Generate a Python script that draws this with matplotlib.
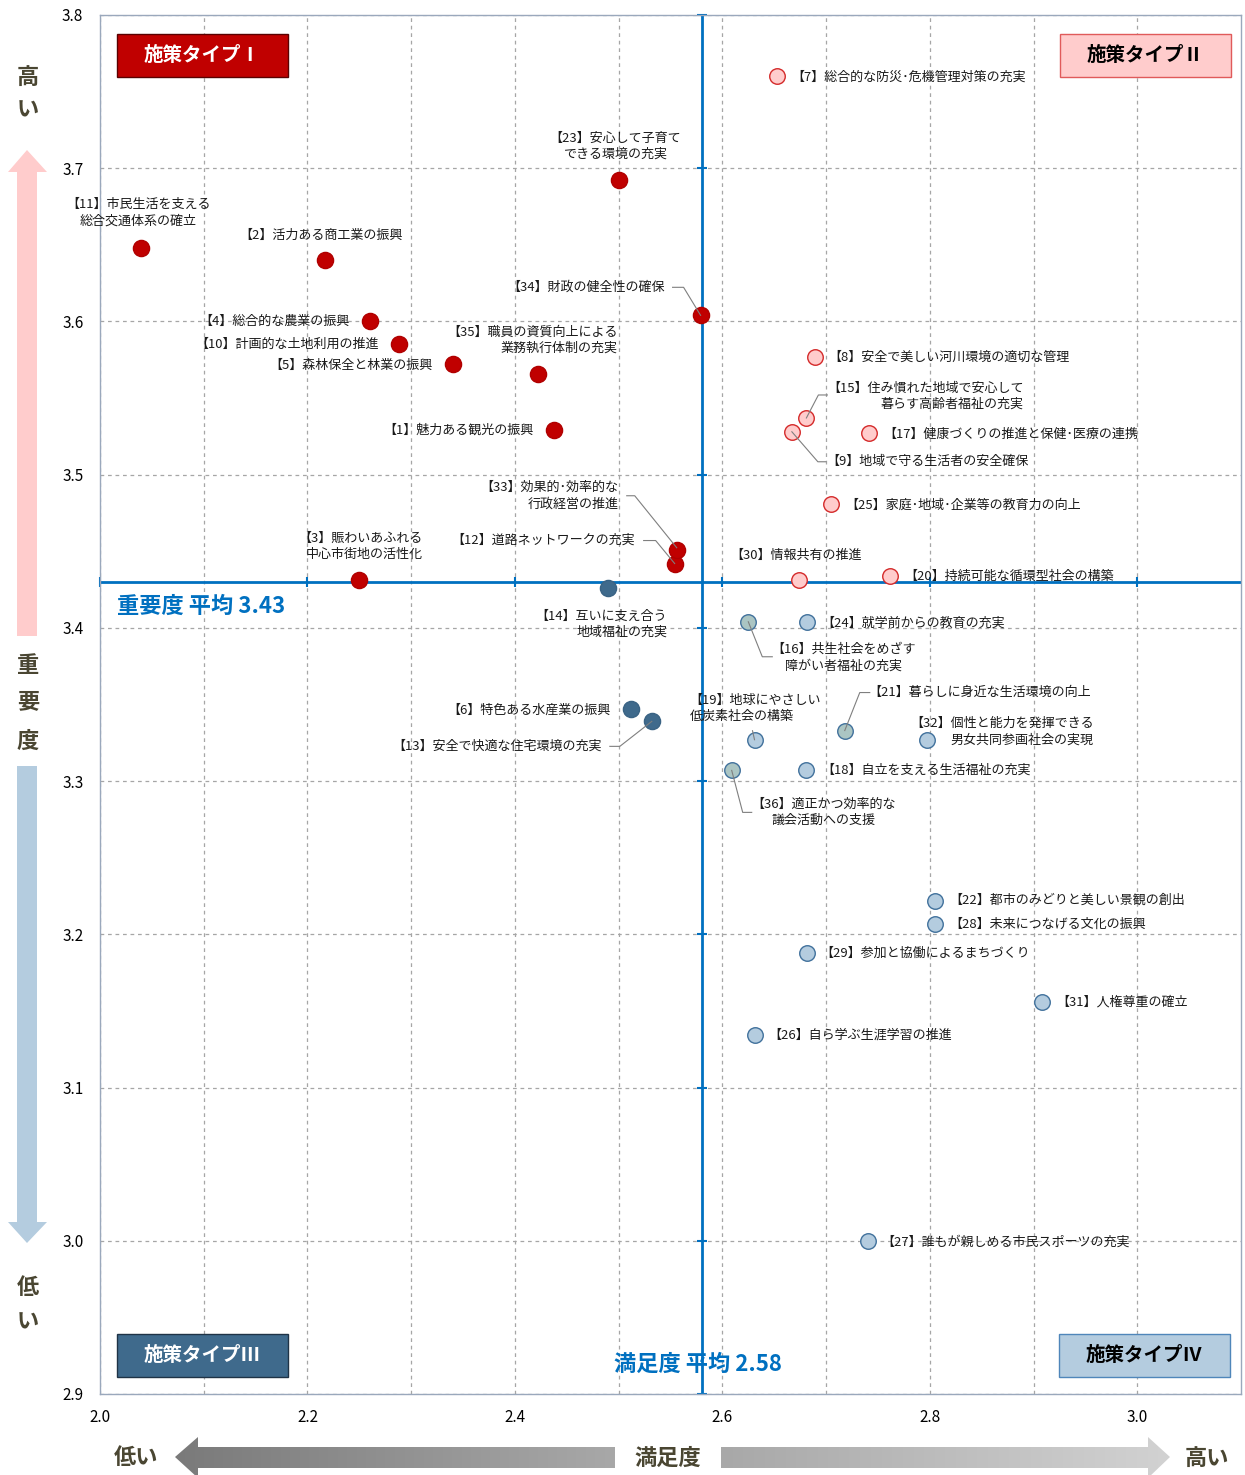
# Importance / satisfaction matrix of the 36 policy items

# %%
import numpy as np
import matplotlib
matplotlib.use('Agg')
import matplotlib.pyplot as plt
from matplotlib.patches import Rectangle, Polygon
from matplotlib.transforms import IdentityTransform

plt.rcParams['font.family'] = ['Noto Sans CJK JP', 'DejaVu Sans']

# %% data
ids = list(range(1, 37))
names = [
    '魅力ある観光の振興', '活力ある商工業の振興', '賑わいあふれる\n中心市街地の活性化',
    '総合的な農業の振興', '森林保全と林業の振興', '特色ある水産業の振興',
    '総合的な防災･危機管理対策の充実', '安全で美しい河川環境の適切な管理',
    '地域で守る生活者の安全確保', '計画的な土地利用の推進',
    '市民生活を支える\n総合交通体系の確立', '道路ネットワークの充実',
    '安全で快適な住宅環境の充実', '互いに支え合う\n地域福祉の充実',
    '住み慣れた地域で安心して\n暮らす高齢者福祉の充実', '共生社会をめざす\n障がい者福祉の充実',
    '健康づくりの推進と保健･医療の連携', '自立を支える生活福祉の充実',
    '地球にやさしい\n低炭素社会の構築', '持続可能な循環型社会の構築',
    '暮らしに身近な生活環境の向上', '都市のみどりと美しい景観の創出',
    '安心して子育て\nできる環境の充実', '就学前からの教育の充実',
    '家庭･地域･企業等の教育力の向上', '自ら学ぶ生涯学習の推進',
    '誰もが親しめる市民スポーツの充実', '未来につなげる文化の振興',
    '参加と協働によるまちづくり', '情報共有の推進', '人権尊重の確立',
    '個性と能力を発揮できる\n男女共同参画社会の実現', '効果的･効率的な\n行政経営の推進',
    '財政の健全性の確保', '職員の資質向上による\n業務執行体制の充実',
    '適正かつ効率的な\n議会活動への支援',
]
satisfaction = [2.438, 2.217, 2.250, 2.260, 2.340, 2.512, 2.653, 2.689, 2.667, 2.288,
                2.040, 2.554, 2.532, 2.490, 2.681, 2.625, 2.741, 2.681, 2.631, 2.762,
                2.718, 2.805, 2.500, 2.682, 2.705, 2.631, 2.740, 2.805, 2.682, 2.674,
                2.908, 2.797, 2.556, 2.579, 2.422, 2.609]
importance = [3.529, 3.640, 3.431, 3.600, 3.572, 3.347, 3.760, 3.577, 3.528, 3.585,
              3.648, 3.442, 3.339, 3.426, 3.537, 3.404, 3.527, 3.307, 3.327, 3.434,
              3.333, 3.222, 3.692, 3.404, 3.481, 3.134, 3.000, 3.207, 3.188, 3.431,
              3.156, 3.327, 3.451, 3.604, 3.566, 3.307]
group = ['I', 'I', 'I', 'I', 'I', 'III', 'II', 'II', 'II', 'I',
         'I', 'I', 'III', 'III', 'II', 'IVg', 'II', 'IV', 'IV', 'II',
         'IVg', 'IV', 'I', 'IV', 'II', 'IV', 'IV', 'IV', 'IV', 'II',
         'IV', 'IV', 'I', 'I', 'I', 'IVg']
sat_mean = 2.58
imp_mean = 3.43

x_ticks = [2.0, 2.2, 2.4, 2.6, 2.8, 3.0]
y_ticks = [2.9, 3.0, 3.1, 3.2, 3.3, 3.4, 3.5, 3.6, 3.7, 3.8]

# %% styles
styles = {
    'I':   dict(fc='#C00000', ec='#B00000', s=135),
    'II':  dict(fc='#FFCCCC', ec='#D42A2A', s=125),
    'III': dict(fc='#3F6A8C', ec='#3A6384', s=135),
    'IV':  dict(fc='#B4CCDF', ec='#41719C', s=125),
    'IVg': dict(fc='#ABC5C3', ec='#41719C', s=125),
}
# label placement: pixel offset from the marker (dx, dy up), ha, multialignment
label_pos = {
    1: (-21, 0, 'right', 'right'), 2: (-1, 25, 'center', 'center'),
    3: (63, 34, 'right', 'right'), 4: (-20, 0, 'right', 'right'),
    5: (-20, -1, 'right', 'right'), 6: (-21, -1, 'right', 'right'),
    7: (20, -1, 'left', 'left'), 8: (20, -1, 'left', 'left'),
    9: (40, -30, 'left', 'left'), 10: (-20, 0, 'right', 'right'),
    11: (0, 35, 'center', 'center'), 12: (-40, 23, 'right', 'right'),
    13: (-50, -25, 'right', 'right'), 14: (59, -36, 'right', 'right'),
    15: (27, 22, 'left', 'right'), 16: (29, -36, 'left', 'center'),
    17: (21, -1, 'left', 'left'), 18: (21, 0, 'left', 'left'),
    19: (-59, 31, 'left', 'left'), 20: (20, -1, 'left', 'left'),
    21: (30, 38, 'left', 'left'), 22: (20, 0, 'left', 'left'),
    23: (0, 34, 'center', 'center'), 24: (20, -1, 'left', 'left'),
    25: (20, -1, 'left', 'left'), 26: (20, 0, 'left', 'left'),
    27: (20, -1, 'left', 'left'), 28: (20, -1, 'left', 'left'),
    29: (19, -1, 'left', 'left'), 30: (0, 25, 'center', 'center'),
    31: (20, 0, 'left', 'left'), 32: (167, 8, 'right', 'right'),
    33: (-58, 54, 'right', 'right'), 34: (-36, 28, 'right', 'right'),
    35: (80, 33, 'right', 'right'), 36: (26, -42, 'left', 'center'),
}
# the full-width bracket carries blank space on its left side
bracket_shift = {'left': -6, 'center': -3, 'right': 0}
# leader lines, pixel vertices relative to the marker
leaders = {
    9: [(34, -30), (26, -30), (0, 0)],
    12: [(-31, 23), (-19, 23), (0, 0)],
    13: [(-42, -25), (-32, -25), (0, 0)],
    15: [(21, 23), (12, 23), (0, 0)],
    16: [(0, 0), (14, -35), (24, -35)],
    19: [(0, 0), (-2, 9)],
    21: [(0, 0), (15, 38), (25, 38)],
    33: [(-50, 54), (-42, 54), (0, 2)],
    34: [(-28, 28), (-17, 28), (0, 0)],
    36: [(0, 0), (11, -42), (20, -42)],
}

# %% figure
W, H = 1245, 1475
fig = plt.figure(figsize=(W / 100, H / 100), dpi=100)

ax = fig.add_axes([100 / W, (H - 1394) / H, 1141 / W, 1379 / H])

# overlay in pixel coordinates for the boxes and the decorations outside the plot
ov = fig.add_axes([0, 0, 1, 1])
ov.set_zorder(3)
ov.set_axis_off()

ax.set_xlim(2.0, 3.1)
ax.set_ylim(2.9, 3.8)
ax.set_xticks(x_ticks, [f'{v:.1f}' for v in x_ticks])
ax.set_yticks(y_ticks, [f'{v:.1f}' for v in y_ticks])
ax.set_xticks(np.arange(2.1, 3.1, 0.2), minor=True)
ax.tick_params(which='both', length=0, labelsize=11)
ax.tick_params(axis='x', pad=11)
ax.tick_params(axis='y', pad=12)
ax.grid(which='both', color='#A6A6A6', linestyle=(0, (3, 3)), linewidth=0.9)
ax.set_axisbelow(True)
for sp in ax.spines.values():
    sp.set_color('#9AA8BC')
    sp.set_linewidth(1.0)

# mean lines with their own small ticks
mean_col = '#0070C0'
ax.axvline(sat_mean, color=mean_col, lw=2, zorder=2)
ax.axhline(imp_mean, color=mean_col, lw=2, zorder=2)
ax.plot([sat_mean] * len(y_ticks), y_ticks, ls='none', marker='_', ms=7, mew=1.5,
        color=mean_col, zorder=2, clip_on=False)
ax.plot(x_ticks, [imp_mean] * len(x_ticks), ls='none', marker='|', ms=7, mew=1.5,
        color=mean_col, zorder=2, clip_on=False)

ax.annotate('重要度 平均 3.43', xy=(2.0, imp_mean), xytext=(17, -24),
            textcoords='offset pixels', ha='left', va='center', fontsize=16,
            fontweight='bold', color=mean_col)
ax.annotate('満足度 平均 2.58', xy=(sat_mean, 2.9), xytext=(-4, 30),
            textcoords='offset pixels', ha='center', va='center', fontsize=16,
            fontweight='bold', color=mean_col)

# points
for g, st in styles.items():
    xs = [x for x, gg in zip(satisfaction, group) if gg == g]
    ys = [y for y, gg in zip(importance, group) if gg == g]
    ax.scatter(xs, ys, s=st['s'], facecolor=st['fc'], edgecolor=st['ec'],
               linewidth=1.0, zorder=4)

# labels
for i, name, x, y in zip(ids, names, satisfaction, importance):
    dx, dy, ha, ma = label_pos[i]
    ax.annotate(f'【{i}】{name}', xy=(x, y), xytext=(dx + bracket_shift[ha], dy),
                textcoords='offset pixels', ha=ha, va='center', multialignment=ma,
                fontsize=9.4, color='#1A1A1A', linespacing=1.3, zorder=5)

# leaders in display pixels
for i, verts in leaders.items():
    px, py = ax.transData.transform((satisfaction[i - 1], importance[i - 1]))
    lx = [px + v[0] for v in verts]
    ly = [py + v[1] for v in verts]
    ax.plot(lx, ly, color='#7F7F7F', lw=0.8, transform=IdentityTransform(), zorder=6,
            clip_on=False)

# quadrant boxes
boxes = [
    ('施策タイプⅠ', 117, 34, '#C00000', '#5A0000', 'white'),
    ('施策タイプⅡ', 1060, 34, '#FFCCCC', '#E05A5A', 'black'),
    ('施策タイプⅢ', 117, 1334, '#3F6A8C', '#1F3346', 'white'),
    ('施策タイプⅣ', 1059, 1334, '#B4CCDF', '#4F86BA', 'black'),
]
for txt, bx, by, fc, ec, tc in boxes:
    ov.add_patch(Rectangle((bx, by), 171, 43, facecolor=fc, edgecolor=ec, lw=1.0, zorder=3))
    ov.text(bx + 85, by + 21, txt, ha='center', va='center', fontsize=14,
            fontweight='bold', color=tc, zorder=4)

# side arrows
ov.add_patch(Polygon([(27, 150), (47, 172), (37, 172), (37, 636), (17, 636), (17, 172), (8, 172)],
                     closed=True, facecolor='#FFCCCC', edgecolor='none'))
ov.add_patch(Polygon([(27, 1243), (47, 1222), (37, 1222), (37, 766), (17, 766), (17, 1222), (8, 1222)],
                     closed=True, facecolor='#B4CCDF', edgecolor='none'))

side_col = '#4A4632'
for ch, yy in [('高', 77), ('い', 110), ('重', 665), ('要', 702), ('度', 741), ('低', 1288), ('い', 1322)]:
    ov.text(28, yy, ch, ha='center', va='center', fontsize=16, fontweight='bold', color=side_col)

# bottom gradient arrows
def grad_arrow(poly, x0, x1, c0, c1):
    patch = Polygon(poly, closed=True, facecolor='none', edgecolor='none')
    ov.add_patch(patch)
    grad = np.linspace(0, 1, 256)[None, :]
    c0 = np.array(matplotlib.colors.to_rgb(c0))
    c1 = np.array(matplotlib.colors.to_rgb(c1))
    img = c0[None, None, :] * (1 - grad[..., None]) + c1[None, None, :] * grad[..., None]
    im = ov.imshow(img, extent=(x0, x1, 1480, 1430), aspect='auto', zorder=1)
    im.set_clip_path(patch)

grad_arrow([(175, 1457), (198, 1437), (198, 1447), (615, 1447), (615, 1468), (198, 1468), (198, 1478)],
           175, 615, '#7A7A7A', '#A8A8A8')
grad_arrow([(1170, 1457), (1148, 1437), (1148, 1447), (721, 1447), (721, 1468), (1148, 1468), (1148, 1478)],
           721, 1170, '#A8A8A8', '#D2D2D2')
ov.set_xlim(0, W)
ov.set_ylim(H, 0)

ov.text(136, 1458, '低い', ha='center', va='center', fontsize=16, fontweight='bold', color=side_col)
ov.text(668, 1458, '満足度', ha='center', va='center', fontsize=16, fontweight='bold', color=side_col)
ov.text(1207, 1458, '高い', ha='center', va='center', fontsize=16, fontweight='bold', color=side_col)

fig.savefig('out.png', dpi=100)
